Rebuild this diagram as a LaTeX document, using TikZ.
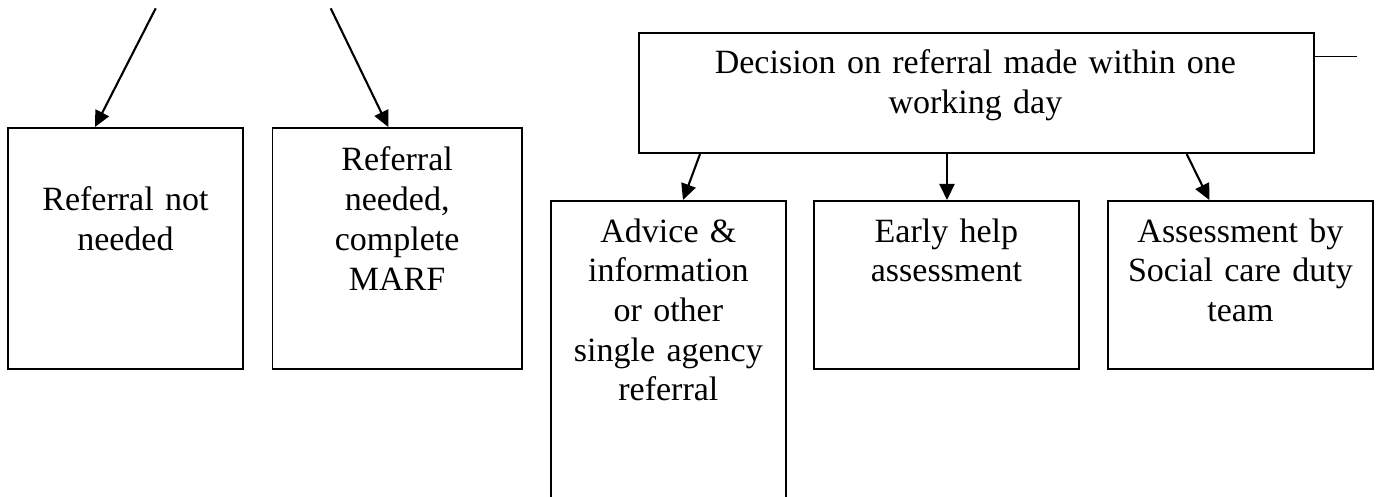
\documentclass[tikz,border=0pt]{standalone}
\usepackage{fontspec}
\setmainfont{Liberation Serif}
\usetikzlibrary{arrows.meta,calc}
\begin{document}
\begin{tikzpicture}[x=1pt,y=-1pt,
  box/.style={draw, line width=1.8pt, rectangle, inner sep=0pt, anchor=north west},
  txt/.style={font=\fontsize{34}{39.7}\selectfont, align=center, anchor=base, inner sep=0pt},
  arr/.style={line width=2.1pt, -{Triangle[length=16pt,width=15pt]}}]
\clip (0,0) rectangle (1380,497);
% boxes
\node[box, minimum width=235pt, minimum height=241pt] (b1) at (7,127) {};
\node[box, minimum width=249.5pt, minimum height=241pt] (b2) at (271.5,127) {};
\node[box, minimum width=675pt, minimum height=120pt] (dec) at (638,32.3) {};
\node[box, minimum width=235pt, minimum height=330pt] (adv) at (550,200) {};
\node[box, minimum width=265pt, minimum height=168pt] (early) at (813,200) {};
\node[box, minimum width=265pt, minimum height=168pt] (assess) at (1107,200) {};
% texts
\node[txt, text width=225pt] (t1) at ($(b1.north)+(0,84)$) {Referral not\\needed};
\node[txt, text width=240pt] (t2) at ($(b2.north)+(0,44)$) {Referral\\needed,\\complete\\MARF};
\node[txt, text width=665pt] (t3) at ($(dec.north)+(-1,41.7)$) {Decision on referral made within one\\working day};
\node[txt, text width=225pt] (t4) at ($(adv.north)+(0,42)$) {Advice \&\\information\\or other\\single agency\\referral};
\node[txt, text width=255pt] (t5) at ($(early.north)+(0,42)$) {Early help\\assessment};
\node[txt, text width=255pt] (t6) at ($(assess.north)+(0,42)$) {Assessment by\\Social care duty\\team};
% free ends
\coordinate (s1) at (155.7,8.3);
\coordinate (s2) at (330.7,8.3);
\coordinate (lineend) at (1357,56.7);
% connectors
\draw[arr] (s1) -- ($(b1.north west)+(88,0)$);
\draw[arr] (s2) -- ($(b2.north west)+(116.8,0)$);
\draw[line width=1.6pt] (dec.east |- lineend) -- (lineend);
\draw[arr] ($(dec.south west)+(62,0)$) -- ($(adv.north west)+(133,0)$);
\draw[arr] ($(dec.south west)+(309,0)$) -- ($(early.north west)+(134,0)$);
\draw[arr] ($(dec.south west)+(548.7,0)$) -- ($(assess.north west)+(102.3,0)$);
\end{tikzpicture}
\end{document}
